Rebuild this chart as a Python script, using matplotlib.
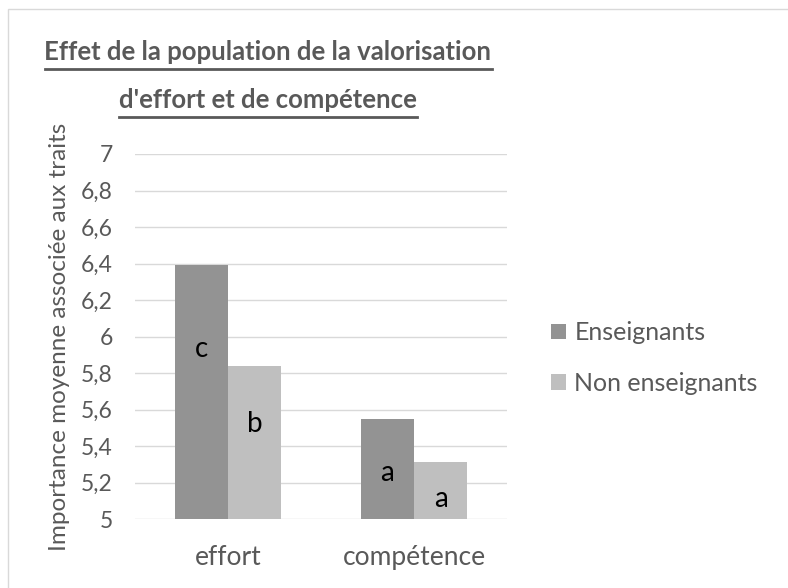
import numpy as np
import matplotlib
matplotlib.use("Agg")
import matplotlib.pyplot as plt
from matplotlib.lines import Line2D
from matplotlib.patches import Rectangle

# --- data ---
categories = ["effort", "compétence"]
series_names = ["Enseignants", "Non enseignants"]
enseignants = [6.39, 5.55]
non_enseignants = [5.84, 5.31]
letters_ens = ["c", "a"]
letters_non = ["b", "a"]
letter_y_ens = [5.93, 5.25]
letter_y_non = [5.52, 5.11]
yticks = [5, 5.2, 5.4, 5.6, 5.8, 6, 6.2, 6.4, 6.6, 6.8, 7]
ytick_labels = ["5", "5,2", "5,4", "5,6", "5,8", "6", "6,2", "6,4", "6,6", "6,8", "7"]

grey_txt = "#595959"
col_ens = "#939393"
col_non = "#bfbfbf"

plt.rcParams["font.family"] = ["Lato", "DejaVu Sans"]

W, H = 788, 588
fig = plt.figure(figsize=(W / 100, H / 100), dpi=100)

# chart border
fig.add_artist(Rectangle((8 / W, -0.05), 1.1, 1 - 9 / H + 0.05, transform=fig.transFigure,
                         fill=False, edgecolor="#d9d9d9", linewidth=1))

ax = fig.add_axes([135 / W, 1 - 519 / H, (507 - 135) / W, (519 - 154) / H])

x = np.arange(len(categories))
bw = 0.285
b1 = ax.bar(x - bw / 2, np.array(enseignants) - 5, bw, bottom=5, color=col_ens,
            label=series_names[0], zorder=3)
b2 = ax.bar(x + bw / 2, np.array(non_enseignants) - 5, bw, bottom=5, color=col_non,
            label=series_names[1], zorder=3)

for i in range(len(categories)):
    ax.text(x[i] - bw / 2, letter_y_ens[i], letters_ens[i], ha="center", va="center",
            fontsize=20, color="black", zorder=4)
    ax.text(x[i] + bw / 2, letter_y_non[i], letters_non[i], ha="center", va="center",
            fontsize=20, color="black", zorder=4)

ax.set_xlim(-0.5, 1.5)
ax.set_ylim(5, 7)
ax.set_yticks(yticks)
ax.set_yticklabels(ytick_labels)
ax.set_xticks(x)
ax.set_xticklabels(categories)
ax.yaxis.grid(True, color="#d9d9d9", linewidth=1, zorder=0)
ax.tick_params(axis="y", length=0, pad=16, labelsize=16.5, labelcolor=grey_txt)
ax.tick_params(axis="x", length=0, pad=19, labelsize=19, labelcolor=grey_txt)
for s in ax.spines.values():
    s.set_visible(False)

fig.text(60 / W, 1 - 337 / H, "Importance moyenne associée aux traits", rotation=90,
         ha="center", va="center", fontsize=17.5, color=grey_txt)

fig.legend(handles=[b1, b2], loc="center left", bbox_to_anchor=(528 / W, 1 - 358 / H),
           frameon=False, fontsize=18, labelcolor=grey_txt, handlelength=0.6,
           handleheight=0.6, handletextpad=0.36, labelspacing=1.1)

# title, two underlined lines
title_lines = ["Effet de la population de la valorisation", "d'effort et de compétence"]
baselines = [60, 108]
t_objs = []
for line, yb in zip(title_lines, baselines):
    t_objs.append(fig.text(268 / W, 1 - yb / H, line, ha="center", va="baseline",
                           fontsize=18.5, fontweight="bold", color=grey_txt))
fig.canvas.draw()
r = fig.canvas.get_renderer()
for t, yb in zip(t_objs, baselines):
    bb = t.get_window_extent(r)
    yu = 1 - (yb + 9) / H
    fig.add_artist(Line2D([bb.x0 / W, bb.x1 / W], [yu, yu], transform=fig.transFigure,
                          color=grey_txt, linewidth=2))

fig.savefig("out.png", dpi=100)
